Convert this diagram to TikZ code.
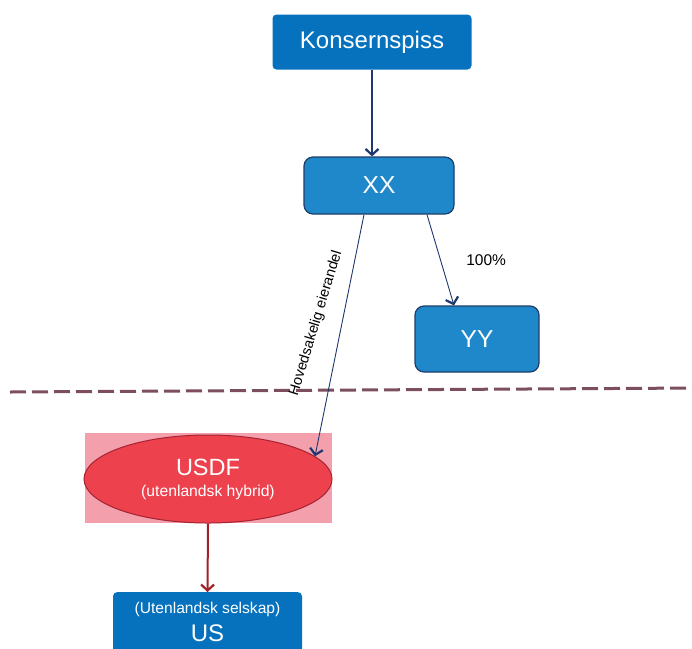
\documentclass[tikz,border=0pt]{standalone}
\usepackage{fontspec}
\setmainfont{Liberation Sans}
\usetikzlibrary{shapes.geometric,arrows.meta}
\definecolor{toppblue}{RGB}{6,114,190}
\definecolor{boxblue}{RGB}{31,136,202}
\definecolor{boxedge}{RGB}{30,62,105}
\definecolor{navy}{RGB}{30,55,110}
\definecolor{hybridred}{RGB}{238,65,78}
\definecolor{hybridedge}{RGB}{165,35,50}
\definecolor{hybridpink}{RGB}{244,160,172}
\definecolor{darkred}{RGB}{165,30,40}
\definecolor{border}{RGB}{125,78,95}
\begin{document}
\begin{tikzpicture}[
  x=1pt, y=-1pt,
  top/.style={fill=toppblue, rounded corners=4pt, text=white, align=center},
  company/.style={fill=boxblue, draw=boxedge, line width=1.2pt, rounded corners=9pt,
    text=white, font=\fontsize{24.5}{26}\selectfont},
  hybrid/.style={ellipse, fill=hybridred, draw=hybridedge, line width=1pt, text=white,
    minimum width=248pt, minimum height=88pt, inner sep=0pt, align=center,
    font=\fontsize{15.7}{21}\selectfont},
  owns/.style={draw=navy, -{Straight Barb[length=6pt,width=13pt,line width=2.2pt]}},
  owns red/.style={draw=darkred, line width=2pt, -{Straight Barb[length=6pt,width=13pt,line width=2.2pt]}}
]
\useasboundingbox (0,0) rectangle (692,648);

% national border
\coordinate (borderl) at (10,392);
\coordinate (borderr) at (698,388);
\draw[border, line width=3pt, dash pattern=on 16pt off 6pt] (borderl) -- (borderr);

\node[top, minimum width=199pt, minimum height=55pt, font=\fontsize{24}{26}\selectfont]
  (kon) at (372,42) {Konsernspiss};
\node[company, minimum width=150pt, minimum height=57pt] (xx) at (379,185.5) {XX};
\node[company, minimum width=124pt, minimum height=66pt] (yy) at (477,339) {YY};

\node[fill=hybridpink, minimum width=247pt, minimum height=90pt] (usdfbg) at (208.5,478) {};
\node[hybrid] (usdf) at (208,479)
  {{\fontsize{23.5}{23}\selectfont USDF}\\(utenlandsk hybrid)};

\node[top, anchor=north, minimum width=189pt, minimum height=60pt,
  font=\fontsize{15.6}{28}\selectfont] (us) at (207.5,592)
  {(Utenlandsk selskap)\\{\fontsize{24}{23}\selectfont US}};

\draw[owns, line width=2pt] (kon.south) -- (kon.south |- xx.north);
\draw[owns, line width=0.9pt] ([xshift=48pt]xx.south) -- ([xshift=-23pt]yy.north)
  node[pos=0.5, right=22pt, font=\fontsize{15.5}{16}\selectfont] (pct) {100\%};
\draw[owns, line width=0.9pt] ([xshift=-15pt]xx.south) -- (usdf.12)
  node[pos=0.45, xshift=-26pt, rotate=73, font=\fontsize{14.5}{16}\selectfont] (eierandel)
  {Hovedsakelig eierandel};
\draw[owns red] (usdf.south) -- (us.north);
\end{tikzpicture}
\end{document}
